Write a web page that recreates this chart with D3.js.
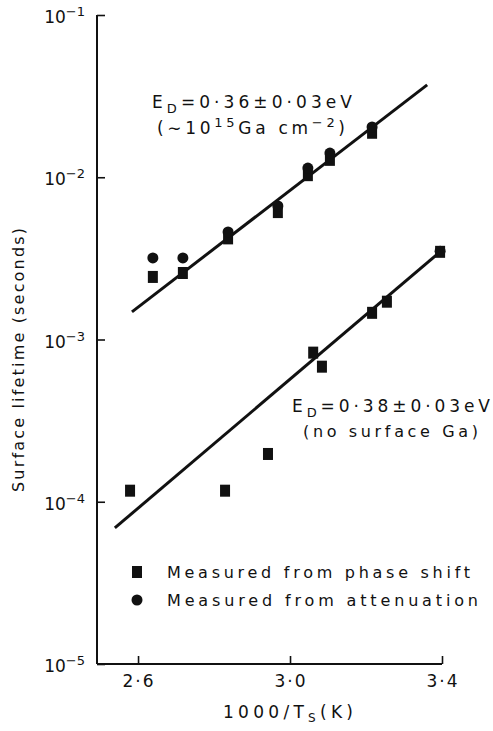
<!DOCTYPE html>
<html>
<head>
<meta charset="utf-8">
<script src="https://cdn.jsdelivr.net/npm/d3@7.9.0/dist/d3.min.js"></script>
<style>
  html, body { margin: 0; padding: 0; background: #fff; }
  svg { display: block; }
  text { font-family: "DejaVu Sans", sans-serif; fill: #111; }
</style>
</head>
<body>
<div id="chart"></div>
<script>
// values
const xTicks = [2.6, 3.0, 3.4];
const xTickLabels = ['2·6', '3·0', '3·4'];
const yTicks = [1e-1, 1e-2, 1e-3, 1e-4, 1e-5];
const yTickExps = ['-1', '-2', '-3', '-4', '-5'];

// covered surface (~1e15 Ga cm-2)
const coveredX = [2.639, 2.718, 2.837, 2.968, 3.047, 3.105, 3.216];
const coveredPhase = [2.43e-3, 2.57e-3, 4.2e-3, 6.1e-3, 1.03e-2, 1.28e-2, 1.88e-2];
const coveredAtten = [3.18e-3, 3.18e-3, 4.6e-3, 6.65e-3, 1.14e-2, 1.41e-2, 2.04e-2];
// clean surface
const cleanX = [2.579, 2.829, 2.942, 3.061, 3.084, 3.216, 3.255, 3.395];
const cleanPhase = [1.17e-4, 1.17e-4, 1.97e-4, 8.3e-4, 6.8e-4, 1.46e-3, 1.71e-3, 3.47e-3];
const cleanAttenX = [3.395];
const cleanAtten = [3.5e-3];

// fitted lines (end points)
const fitCoveredX = [2.584, 3.361];
const fitCoveredY = [1.48e-3, 3.71e-2];
const fitCleanX = [2.539, 3.395];
const fitCleanY = [6.9e-5, 3.47e-3];

const W = 493, H = 731;
const m = { left: 97, right: 51, top: 15, bottom: 67 };

const svg = d3.select('#chart').append('svg').attr('width', W).attr('height', H);

const x = d3.scaleLinear().domain([2.492, 3.4]).range([m.left, W - m.right]);
const y = d3.scaleLog().domain([1e-5, 1e-1]).range([H - m.bottom, m.top]);

// axes
const gx = svg.append('g').attr('transform', `translate(0,${H - m.bottom})`)
  .call(d3.axisBottom(x).tickValues(xTicks).tickSize(-8).tickFormat(''));
const gy = svg.append('g').attr('transform', `translate(${m.left},0)`)
  .call(d3.axisLeft(y).tickValues(yTicks).tickSize(-8).tickFormat(''));
[gx, gy].forEach(g => {
  g.select('.domain').attr('stroke', '#111').attr('stroke-width', 2);
  g.selectAll('.tick line').attr('stroke', '#111').attr('stroke-width', 1.6);
});
gx.select('.domain').attr('d', `M${x.range()[0]},0H${x.range()[1]}`);
gy.select('.domain').attr('d', `M0,${y.range()[0]}V${y.range()[1]}`);

// tick labels
svg.append('g').selectAll('text').data(xTicks).join('text')
  .attr('x', d => x(d)).attr('y', H - m.bottom + 23)
  .attr('text-anchor', 'middle').attr('font-size', 17)
  .attr('textLength', 31).attr('lengthAdjust', 'spacing')
  .text((d, i) => xTickLabels[i]);

const yl = svg.append('g').selectAll('text').data(yTicks).join('text')
  .attr('x', m.left - 12).attr('y', d => y(d) + 8)
  .attr('text-anchor', 'end').attr('font-size', 17);
yl.append('tspan').text('10');
yl.append('tspan').attr('dy', -7).attr('font-size', 13).text((d, i) => yTickExps[i].replace('-', '−'));

// axis titles
const xt = svg.append('text').attr('x', 223).attr('y', 718).attr('font-size', 17)
  .attr('textLength', 130).attr('lengthAdjust', 'spacing');
xt.append('tspan').text('1000/T');
xt.append('tspan').attr('dy', 4).attr('font-size', 12).text('S');
xt.append('tspan').attr('dy', -4).text('(K)');

svg.append('text').attr('transform', 'translate(24,360) rotate(-90)')
  .attr('text-anchor', 'middle').attr('font-size', 16)
  .attr('textLength', 264).attr('lengthAdjust', 'spacing')
  .text('Surface lifetime (seconds)');

// fit lines
const line = d3.line().x(d => x(d[0])).y(d => y(d[1]));
svg.append('path').datum(d3.zip(fitCoveredX, fitCoveredY)).attr('d', line)
  .attr('fill', 'none').attr('stroke', '#111').attr('stroke-width', 3);
svg.append('path').datum(d3.zip(fitCleanX, fitCleanY)).attr('d', line)
  .attr('fill', 'none').attr('stroke', '#111').attr('stroke-width', 3);

// markers
const sq = 10;
function squares(xs, ys) {
  svg.append('g').selectAll('rect').data(d3.zip(xs, ys)).join('rect')
    .attr('x', d => x(d[0]) - sq / 2).attr('y', d => y(d[1]) - sq / 2 - 1)
    .attr('width', sq).attr('height', sq + 2).attr('fill', '#111');
}
function circles(xs, ys) {
  svg.append('g').selectAll('circle').data(d3.zip(xs, ys)).join('circle')
    .attr('cx', d => x(d[0])).attr('cy', d => y(d[1])).attr('r', 5.5).attr('fill', '#111');
}
squares(coveredX, coveredPhase);
circles(coveredX, coveredAtten);
squares(cleanX, cleanPhase);
circles(cleanAttenX, cleanAtten);

// annotations
function edLabel(x0, y0, val, len) {
  const t = svg.append('text').attr('x', x0).attr('y', y0).attr('font-size', 17)
    .attr('textLength', len).attr('lengthAdjust', 'spacing');
  t.append('tspan').text('E');
  t.append('tspan').attr('dy', 5).attr('font-size', 13).text('D');
  t.append('tspan').attr('dy', -5).text(`=${val}±0·03eV`);
  return t;
}
edLabel(152, 108, '0·36', 200);
const l2 = svg.append('text').attr('x', 157).attr('y', 134).attr('font-size', 17)
  .attr('textLength', 188).attr('lengthAdjust', 'spacing');
l2.append('tspan').text('(∼10');
l2.append('tspan').attr('dy', -7).attr('font-size', 13).text('15');
l2.append('tspan').attr('dy', 7).text('Ga cm');
l2.append('tspan').attr('dy', -7).attr('font-size', 13).text('−2');
l2.append('tspan').attr('dy', 7).text(')');

edLabel(292, 412, '0·38', 198);
svg.append('text').attr('x', 303).attr('y', 437).attr('font-size', 16)
  .attr('textLength', 175).attr('lengthAdjust', 'spacing')
  .text('(no surface Ga)');

// legend
const legendY = [572, 600];
const legendText = ['Measured from phase shift', 'Measured from attenuation'];
const legendLen = [303, 311];
svg.append('rect').attr('x', 132).attr('y', legendY[0] - 6).attr('width', 10).attr('height', 12).attr('fill', '#111');
svg.append('circle').attr('cx', 137).attr('cy', legendY[1]).attr('r', 5.5).attr('fill', '#111');
svg.append('g').selectAll('text').data(legendText).join('text')
  .attr('x', 167).attr('y', (d, i) => legendY[i] + 6).attr('font-size', 16)
  .attr('textLength', (d, i) => legendLen[i]).attr('lengthAdjust', 'spacing')
  .text(d => d);
</script>
</body>
</html>
